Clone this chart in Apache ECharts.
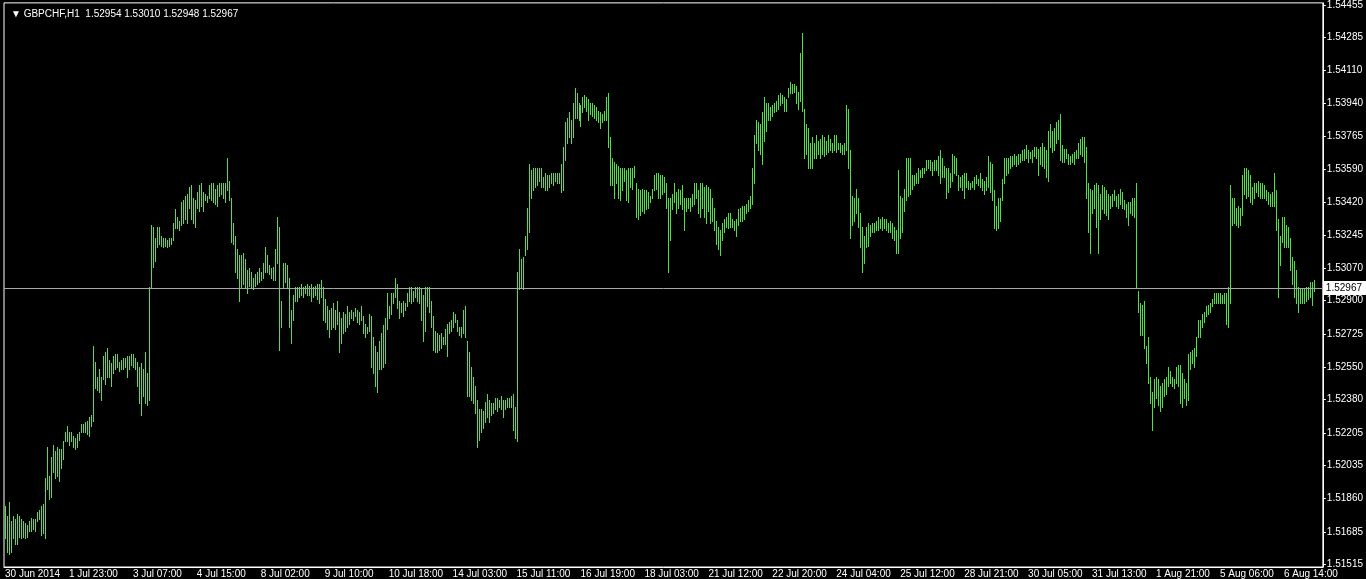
<!DOCTYPE html>
<html>
<head>
<meta charset="utf-8">
<script src="https://cdn.jsdelivr.net/npm/echarts@6/dist/echarts.min.js"></script>
<style>
  html, body { margin: 0; padding: 0; background: #000; }
  #main { width: 1366px; height: 579px; }
</style>
</head>
<body>
<div id="main"></div>
<script>
// GBPCHF H1 bars
var symbolName = 'GBPCHF,H1';
var lastBar = [1.52954, 1.53010, 1.52948, 1.52967]; // open high low close
var xLabels = ['30 Jun 2014', '1 Jul 23:00', '3 Jul 07:00', '4 Jul 15:00', '8 Jul 02:00', '9 Jul 10:00',
  '10 Jul 18:00', '14 Jul 03:00', '15 Jul 11:00', '16 Jul 19:00', '18 Jul 03:00', '21 Jul 12:00',
  '22 Jul 20:00', '24 Jul 04:00', '25 Jul 12:00', '28 Jul 21:00', '30 Jul 05:00', '31 Jul 13:00',
  '1 Aug 21:00', '5 Aug 06:00', '6 Aug 14:00'];
var yLabels = [1.51515, 1.51685, 1.51860, 1.52035, 1.52205, 1.52380, 1.52550, 1.52725, 1.52900,
  1.53070, 1.53245, 1.53420, 1.53590, 1.53765, 1.53940, 1.54110, 1.54285, 1.54455];

var highs = [
1.5182,1.5177,1.5184,1.5174,1.5177,1.5175,1.5178,1.5177,1.5175,1.5174,
1.5173,1.5172,1.5174,1.5176,1.5175,1.5175,1.5179,1.5180,1.5182,1.5183,
1.5197,1.5213,1.5198,1.5208,1.5214,1.5211,1.5213,1.5212,1.5212,1.5216,
1.5221,1.5224,1.5221,1.5221,1.5219,1.5218,1.5220,1.5221,1.5225,1.5225,
1.5226,1.5227,1.5229,1.5230,1.5266,1.5258,1.5250,1.5254,1.5250,1.5261,
1.5263,1.5265,1.5259,1.5257,1.5261,1.5262,1.5262,1.5258,1.5259,1.5260,
1.5260,1.5261,1.5261,1.5262,1.5262,1.5260,1.5258,1.5255,1.5257,1.5254,
1.5263,1.5252,1.5297,1.5330,1.5329,1.5323,1.5329,1.5329,1.5324,1.5323,
1.5323,1.5322,1.5323,1.5323,1.5331,1.5338,1.5334,1.5332,1.5342,1.5343,
1.5345,1.5346,1.5350,1.5351,1.5344,1.5343,1.5347,1.5351,1.5352,1.5347,
1.5346,1.5345,1.5351,1.5352,1.5352,1.5349,1.5351,1.5352,1.5352,1.5352,
1.5352,1.5365,1.5353,1.5344,1.5331,1.5324,1.5317,1.5314,
1.5314,1.5315,1.5312,1.5306,1.5307,1.5305,1.5302,1.5304,1.5305,1.5307,
1.5305,1.5310,1.5318,1.5314,1.5309,1.5307,1.5308,1.5317,1.5334,1.5329,
1.5290,1.5310,1.5310,1.5309,1.5302,1.5285,1.5293,1.5297,1.5297,1.5297,
1.5299,1.5297,1.5298,1.5299,1.5298,1.5299,1.5297,1.5298,1.5299,1.5299,
1.5301,1.5297,1.5291,1.5287,1.5285,1.5286,1.5289,1.5285,1.5290,1.5284,
1.5281,1.5284,1.5283,1.5287,1.5284,1.5285,1.5284,1.5286,1.5285,1.5284,
1.5287,1.5282,1.5278,1.5276,1.5283,1.5282,1.5271,1.5266,1.5263,1.5269,
1.5273,1.5277,1.5281,1.5294,1.5287,1.5294,1.5294,1.5302,1.5299,1.5290,
1.5289,1.5290,1.5289,1.5294,1.5297,1.5297,1.5295,1.5297,1.5297,1.5297,
1.5296,1.5293,1.5297,1.5297,1.5297,1.5290,1.5282,1.5274,1.5273,1.5272,
1.5273,1.5271,1.5275,1.5278,1.5279,1.5280,1.5284,1.5283,1.5280,1.5276,
1.5276,1.5285,1.5287,1.5269,1.5263,1.5255,1.5250,1.5245,1.5238,1.5233,
1.5233,1.5232,1.5237,1.5241,1.5238,1.5236,1.5236,1.5239,1.5239,1.5238,
1.5240,1.5238,1.5238,1.5239,1.5239,1.5240,1.5241,1.5234,1.5305,1.5317,
1.5312,1.5313,1.5324,1.5339,1.5362,
1.5359,1.5360,1.5360,1.5360,1.5360,1.5360,1.5355,1.5357,1.5356,1.5356,
1.5357,1.5357,1.5357,1.5357,1.5357,1.5362,1.5371,1.5384,1.5386,1.5389,
1.5385,1.5394,1.5402,1.5399,1.5394,1.5393,1.5397,1.5398,1.5397,1.5396,
1.5394,1.5394,1.5393,1.5392,1.5390,1.5389,1.5388,1.5390,1.5397,1.5399,
1.5376,1.5365,1.5363,1.5362,1.5361,1.5360,1.5360,1.5360,1.5359,1.5360,
1.5360,1.5360,1.5361,1.5352,1.5349,1.5348,1.5349,1.5348,1.5348,1.5347,
1.5345,1.5349,1.5356,1.5357,1.5357,1.5356,1.5356,1.5355,1.5352,1.5344,
1.5344,1.5346,1.5352,1.5347,1.5349,1.5348,1.5351,1.5344,1.5344,1.5344,
1.5344,1.5346,1.5352,1.5352,1.5348,1.5352,1.5352,1.5350,1.5351,1.5350,
1.5349,1.5344,1.5339,1.5332,1.5329,1.5327,1.5331,1.5333,1.5334,1.5336,
1.5336,1.5333,1.5332,1.5333,1.5338,1.5339,1.5340,1.5340,1.5341,1.5343,
1.5345,1.5360,1.5377,1.5385,1.5384,1.5383,1.5389,1.5397,1.5394,1.5394,
1.5392,1.5393,1.5394,1.5395,1.5398,1.5399,1.5398,1.5397,1.5396,1.5402,
1.5405,1.5404,1.5404,1.5403,1.5400,1.5420,1.5431,1.5391,1.5383,1.5381,
1.5373,1.5376,1.5373,1.5377,1.5374,1.5375,1.5377,1.5376,1.5374,1.5377,
1.5375,1.5373,1.5377,1.5377,1.5373,1.5373,1.5372,1.5373,1.5393,1.5391,
1.5369,1.5345,1.5344,1.5349,1.5344,1.5336,1.5329,1.5324,1.5329,1.5331,
1.5330,1.5331,1.5331,1.5332,1.5334,1.5333,1.5334,1.5333,1.5333,1.5331,
1.5332,1.5331,1.5329,1.5327,1.5359,1.5345,1.5344,1.5349,1.5365,1.5365,
1.5365,1.5356,1.5356,1.5357,1.5360,1.5359,1.5360,1.5360,1.5364,1.5364,
1.5364,1.5363,1.5364,1.5364,1.5366,1.5369,1.5365,1.5361,1.5360,1.5360,
1.5357,1.5367,1.5366,1.5365,1.5356,1.5355,1.5356,1.5357,1.5357,1.5353,
1.5352,1.5353,1.5355,1.5356,1.5354,1.5357,1.5354,1.5353,1.5355,1.5366,
1.5363,1.5362,1.5348,1.5340,1.5344,1.5344,1.5354,1.5365,1.5365,1.5365,
1.5366,1.5366,1.5367,1.5366,1.5367,1.5367,1.5369,1.5370,1.5372,1.5369,
1.5368,1.5369,1.5371,1.5371,1.5370,1.5371,1.5373,1.5371,1.5369,1.5379,
1.5383,1.5379,1.5381,1.5384,1.5385,1.5388,1.5372,1.5370,1.5370,1.5367,
1.5366,1.5367,1.5368,1.5369,1.5373,1.5375,1.5376,1.5376,1.5371,1.5352,
1.5349,1.5348,1.5351,1.5352,1.5351,1.5346,1.5351,1.5350,1.5348,1.5346,
1.5345,1.5346,1.5348,1.5345,1.5346,1.5349,1.5347,1.5343,1.5341,1.5342,
1.5342,1.5344,1.5344,1.5352,
1.5295,1.5289,1.5288,1.5290,1.5266,1.5271,1.5250,1.5242,1.5249,1.5250,
1.5249,1.5245,1.5247,1.5249,1.5250,1.5255,1.5253,1.5250,1.5249,1.5255,
1.5256,1.5256,1.5252,1.5249,1.5247,1.5262,1.5263,1.5264,1.5265,1.5271,
1.5280,1.5280,1.5283,1.5284,1.5287,1.5288,1.5289,1.5291,1.5294,1.5294,
1.5294,1.5294,1.5293,1.5294,1.5294,1.5297,1.5351,1.5344,1.5344,1.5339,
1.5340,1.5339,1.5356,1.5360,1.5360,1.5359,1.5356,1.5350,1.5352,1.5352,
1.5353,1.5352,1.5352,1.5351,1.5348,1.5347,1.5346,1.5347,1.5357,1.5348,
1.5333,1.5324,1.5334,1.5334,1.5330,1.5329,1.5323,1.5313,1.5311,1.5306,
1.5297,1.5296,1.5296,1.5296,1.5297,1.5297,1.5300,1.5300,1.5301
];

var lows = [
1.5165,1.5158,1.5157,1.5158,1.5165,1.5162,1.5162,1.5166,1.5165,1.5166,
1.5165,1.5166,1.5169,1.5169,1.5170,1.5169,1.5174,1.5175,1.5167,1.5168,
1.5165,1.5191,1.5186,1.5187,1.5200,1.5197,1.5198,1.5195,1.5202,1.5207,
1.5216,1.5216,1.5214,1.5216,1.5213,1.5212,1.5213,1.5217,1.5221,1.5221,
1.5221,1.5220,1.5219,1.5224,1.5227,1.5244,1.5243,1.5242,1.5238,1.5249,
1.5246,1.5250,1.5250,1.5245,1.5252,1.5254,1.5255,1.5253,1.5254,1.5254,
1.5255,1.5250,1.5254,1.5256,1.5255,1.5254,1.5245,1.5236,1.5230,1.5240,
1.5236,1.5235,1.5238,1.5297,1.5308,1.5311,1.5318,1.5320,1.5319,1.5318,
1.5319,1.5318,1.5319,1.5320,1.5322,1.5328,1.5328,1.5327,1.5330,1.5331,
1.5333,1.5331,1.5339,1.5333,1.5331,1.5329,1.5339,1.5337,1.5340,1.5337,
1.5343,1.5342,1.5344,1.5343,1.5342,1.5341,1.5340,1.5345,1.5346,1.5344,
1.5342,1.5348,1.5343,1.5321,1.5320,1.5305,1.5302,1.5290,
1.5297,1.5299,1.5297,1.5294,1.5298,1.5297,1.5296,1.5298,1.5299,1.5300,
1.5301,1.5302,1.5305,1.5305,1.5304,1.5302,1.5301,1.5301,1.5310,1.5264,
1.5276,1.5297,1.5300,1.5297,1.5276,1.5268,1.5280,1.5290,1.5290,1.5292,
1.5293,1.5292,1.5294,1.5293,1.5293,1.5290,1.5292,1.5293,1.5291,1.5289,
1.5292,1.5280,1.5279,1.5275,1.5271,1.5275,1.5276,1.5275,1.5278,1.5263,
1.5268,1.5273,1.5274,1.5276,1.5278,1.5281,1.5280,1.5282,1.5279,1.5278,
1.5280,1.5273,1.5271,1.5273,1.5274,1.5255,1.5252,1.5245,1.5242,1.5254,
1.5254,1.5255,1.5257,1.5275,1.5281,1.5283,1.5289,1.5292,1.5286,1.5281,
1.5284,1.5282,1.5285,1.5287,1.5290,1.5289,1.5290,1.5292,1.5290,1.5289,
1.5280,1.5269,1.5274,1.5287,1.5284,1.5276,1.5264,1.5263,1.5263,1.5264,
1.5265,1.5267,1.5267,1.5261,1.5273,1.5274,1.5276,1.5279,1.5274,1.5272,
1.5271,1.5273,1.5271,1.5240,1.5240,1.5238,1.5236,1.5231,1.5213,1.5217,
1.5221,1.5223,1.5226,1.5229,1.5226,1.5230,1.5231,1.5233,1.5232,1.5234,
1.5233,1.5229,1.5233,1.5234,1.5234,1.5234,1.5222,1.5218,1.5216,1.5296,
1.5297,1.5296,1.5314,1.5317,1.5326,
1.5344,1.5348,1.5350,1.5351,1.5353,1.5350,1.5350,1.5348,1.5348,1.5350,
1.5352,1.5351,1.5353,1.5352,1.5352,1.5347,1.5348,1.5364,1.5373,1.5376,
1.5373,1.5376,1.5386,1.5386,1.5385,1.5382,1.5389,1.5392,1.5390,1.5385,
1.5388,1.5387,1.5386,1.5385,1.5384,1.5381,1.5384,1.5385,1.5385,1.5371,
1.5351,1.5351,1.5344,1.5352,1.5344,1.5343,1.5348,1.5353,1.5343,1.5342,
1.5350,1.5349,1.5355,1.5334,1.5333,1.5335,1.5337,1.5336,1.5338,1.5339,
1.5342,1.5344,1.5348,1.5349,1.5344,1.5344,1.5346,1.5347,1.5339,1.5305,
1.5322,1.5338,1.5342,1.5336,1.5339,1.5341,1.5338,1.5327,1.5337,1.5339,
1.5337,1.5340,1.5341,1.5344,1.5336,1.5334,1.5339,1.5334,1.5331,1.5337,
1.5331,1.5332,1.5327,1.5320,1.5317,1.5314,1.5322,1.5326,1.5329,1.5328,
1.5329,1.5329,1.5327,1.5324,1.5330,1.5332,1.5332,1.5333,1.5336,1.5337,
1.5339,1.5341,1.5352,1.5373,1.5369,1.5367,1.5362,1.5374,1.5379,1.5385,
1.5385,1.5387,1.5389,1.5390,1.5391,1.5393,1.5394,1.5390,1.5390,1.5397,
1.5399,1.5399,1.5400,1.5394,1.5391,1.5395,1.5390,1.5365,1.5367,1.5360,
1.5360,1.5360,1.5365,1.5365,1.5367,1.5365,1.5367,1.5366,1.5367,1.5368,
1.5369,1.5368,1.5369,1.5368,1.5370,1.5368,1.5367,1.5367,1.5369,1.5360,
1.5323,1.5330,1.5332,1.5336,1.5329,1.5318,1.5305,1.5310,1.5318,1.5319,
1.5324,1.5326,1.5326,1.5327,1.5327,1.5328,1.5327,1.5328,1.5327,1.5326,
1.5326,1.5323,1.5322,1.5315,1.5315,1.5323,1.5326,1.5337,1.5343,1.5345,
1.5346,1.5349,1.5351,1.5352,1.5352,1.5355,1.5355,1.5357,1.5359,1.5360,
1.5359,1.5356,1.5359,1.5359,1.5356,1.5352,1.5355,1.5355,1.5344,1.5347,
1.5350,1.5353,1.5357,1.5356,1.5348,1.5350,1.5348,1.5344,1.5350,1.5349,
1.5349,1.5350,1.5349,1.5352,1.5351,1.5350,1.5348,1.5346,1.5348,1.5350,
1.5347,1.5343,1.5328,1.5327,1.5328,1.5332,1.5343,1.5352,1.5356,1.5357,
1.5360,1.5361,1.5362,1.5361,1.5362,1.5363,1.5364,1.5364,1.5365,1.5363,
1.5365,1.5363,1.5366,1.5365,1.5356,1.5362,1.5361,1.5360,1.5355,1.5353,
1.5371,1.5368,1.5369,1.5373,1.5375,1.5364,1.5363,1.5363,1.5365,1.5362,
1.5362,1.5363,1.5362,1.5365,1.5365,1.5367,1.5366,1.5363,1.5344,1.5326,
1.5315,1.5336,1.5339,1.5329,1.5315,1.5333,1.5338,1.5336,1.5335,1.5333,
1.5339,1.5340,1.5343,1.5340,1.5339,1.5341,1.5339,1.5338,1.5334,1.5330,
1.5336,1.5335,1.5334,1.5297,
1.5284,1.5272,1.5272,1.5265,1.5257,1.5247,1.5236,1.5222,1.5234,1.5239,
1.5235,1.5232,1.5234,1.5240,1.5241,1.5245,1.5247,1.5245,1.5244,1.5247,
1.5245,1.5236,1.5234,1.5239,1.5235,1.5238,1.5254,1.5257,1.5255,1.5261,
1.5271,1.5271,1.5276,1.5279,1.5282,1.5283,1.5284,1.5287,1.5289,1.5289,
1.5289,1.5289,1.5289,1.5289,1.5278,1.5276,1.5289,1.5330,1.5331,1.5330,
1.5329,1.5330,1.5335,1.5346,1.5344,1.5345,1.5342,1.5341,1.5344,1.5347,
1.5345,1.5344,1.5344,1.5344,1.5343,1.5341,1.5340,1.5340,1.5340,1.5327,
1.5292,1.5309,1.5321,1.5318,1.5318,1.5318,1.5306,1.5299,1.5292,1.5289,
1.5284,1.5289,1.5289,1.5289,1.5290,1.5291,1.5292,1.5288,1.5295
];

var barColor = '#55dd4c';
var slots = 660;          // visible bar slots incl. right-hand shift
var labelEvery = 32;      // bars between time labels

var cats = [];
for (var i = 0; i < slots; i++) cats.push(String(i));
var bars = highs.map(function (h, i) { return [i, h, lows[i]]; });

var chart = echarts.init(document.getElementById('main'));
chart.setOption({
  animation: false,
  backgroundColor: '#000',
  textStyle: { fontFamily: 'Liberation Sans, Arial, sans-serif' },
  title: {
    text: '\u25BC ' + symbolName + '  ' + lastBar.map(function (v) { return v.toFixed(5); }).join(' '),
    left: 6,
    top: 4,
    textStyle: { color: '#fff', fontSize: 10, fontWeight: 'normal', fontFamily: 'Liberation Sans, DejaVu Sans, sans-serif' }
  },
  grid: {
    left: 4, right: 42, top: 2, bottom: 11,
    show: true, borderColor: '#fff', borderWidth: 1, backgroundColor: '#000'
  },
  xAxis: {
    type: 'category',
    data: cats,
    boundaryGap: true,
    axisLine: { lineStyle: { color: '#fff', width: 1 } },
    axisTick: {
      alignWithLabel: true,
      length: 4,
      interval: function (idx) { return idx % labelEvery === 0; },
      lineStyle: { color: '#fff' }
    },
    axisLabel: {
      interval: function (idx) { return idx % labelEvery === 0; },
      formatter: function (v, idx) { return xLabels[idx / labelEvery] || ''; },
      align: 'left',
      color: '#fff',
      fontSize: 10,
      margin: 2
    },
    splitLine: { show: false }
  },
  yAxis: {
    type: 'value',
    position: 'right',
    min: 1.51500,
    max: 1.54466,
    axisLine: { show: true, lineStyle: { color: '#fff' } },
    axisTick: { show: true, length: 3, customValues: yLabels, lineStyle: { color: '#fff' } },
    axisLabel: {
      customValues: yLabels,
      formatter: function (v) { return v.toFixed(5); },
      color: '#fff',
      fontSize: 10,
      margin: 4
    },
    splitLine: { show: false }
  },
  series: [
    {
      type: 'custom',
      silent: true,
      data: bars,
      encode: { x: 0, y: [1, 2] },
      renderItem: function (params, api) {
        var top = api.coord([api.value(0), api.value(1)]);
        var bot = api.coord([api.value(0), api.value(2)]);
        var x = Math.round(top[0]) + 0.5;
        return {
          type: 'line',
          shape: { x1: x, y1: Math.round(top[1]), x2: x, y2: Math.round(bot[1]) + 1 },
          style: { stroke: barColor, lineWidth: 1 }
        };
      }
    },
    {
      type: 'line',
      data: [],
      silent: true,
      markLine: {
        silent: true,
        precision: 5,
        symbol: ['none', 'none'],
        lineStyle: { color: '#a8a8a8', width: 1, type: 'solid' },
        label: {
          show: true,
          position: 'end',
          distance: 0,
          formatter: lastBar[3].toFixed(5),
          color: '#000',
          backgroundColor: '#fff',
          fontSize: 10,
          padding: [2, 5, 2, 3]
        },
        data: [{ yAxis: lastBar[3] }]
      }
    }
  ]
});
</script>
</body>
</html>
